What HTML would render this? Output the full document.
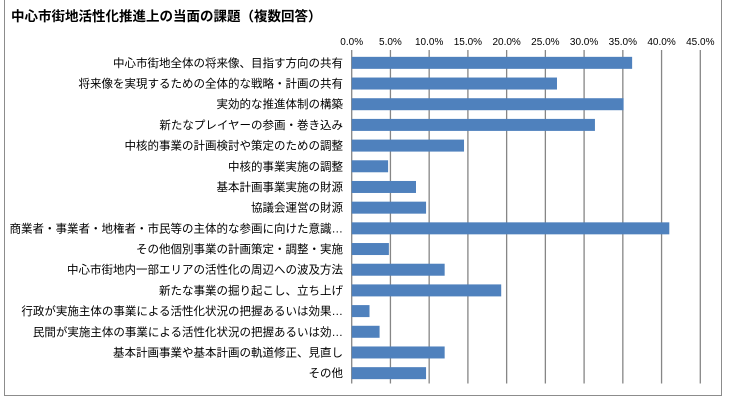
<!DOCTYPE html>
<html><head><meta charset="utf-8"><style>
body{margin:0;background:#fff;}
svg{display:block;font-family:"Liberation Sans","Noto Sans CJK JP",sans-serif;}
</style></head><body>
<svg id="chart" width="730" height="400">
<rect x="4.5" y="-1" width="717" height="396.5" fill="#fff" stroke="#8c8c8c"/>
<text x="11" y="21" font-size="13.5" font-weight="bold" fill="#000" font-family="'Noto Sans CJK JP',sans-serif">中心市街地活性化推進上の当面の課題（複数回答）</text>
<g id="grid"></g><g id="bars"></g><g id="labels"></g><g id="ticks"></g>
</svg>
<script>
const categories=["中心市街地全体の将来像、目指す方向の共有","将来像を実現するための全体的な戦略・計画の共有","実効的な推進体制の構築","新たなプレイヤーの参画・巻き込み","中核的事業の計画検討や策定のための調整","中核的事業実施の調整","基本計画事業実施の財源","協議会運営の財源","商業者・事業者・地権者・市民等の主体的な参画に向けた意識…","その他個別事業の計画策定・調整・実施","中心市街地内一部エリアの活性化の周辺への波及方法","新たな事業の掘り起こし、立ち上げ","行政が実施主体の事業による活性化状況の把握あるいは効果…","民間が実施主体の事業による活性化状況の把握あるいは効…","基本計画事業や基本計画の軌道修正、見直し","その他"];
const values=[36.2,26.5,35.1,31.4,14.5,4.7,8.3,9.6,41.0,4.8,12.0,19.3,2.3,3.6,12.0,9.6];
const tickValues=[0,5,10,15,20,25,30,35,40,45];
const tickLabels=["0.0%","5.0%","10.0%","15.0%","20.0%","25.0%","30.0%","35.0%","40.0%","45.0%"];
const NS="http://www.w3.org/2000/svg";
const x0=351.7,x1=700.3,xMax=45,plotTop=52.5,plotBot=383.5;
const xs=v=>x0+(v/xMax)*(x1-x0);
const band=(plotBot-plotTop)/categories.length;
const yc=i=>plotTop+band*(i+0.5);
function mk(t,a,p){const e=document.createElementNS(NS,t);for(const k in a)e.setAttribute(k,a[k]);document.getElementById(p).appendChild(e);return e;}
tickValues.forEach((v,i)=>{
 const l=mk("line",{x1:xs(v),x2:xs(v),y1:50,y2:plotBot,stroke:"#868686","stroke-width":1.3},"grid");
 
 
 const t=mk("text",{x:xs(v),y:45,"font-size":10,"text-anchor":"middle",fill:"#000"},"ticks");
 t.textContent=tickLabels[i];
 
 
});
categories.forEach((c,i)=>{
 const r=mk("rect",{x:x0,y:yc(i)-6,width:xs(values[i])-x0,height:12,fill:"#4f81bd"},"bars");
 
 
 const t=mk("text",{x:343,y:yc(i)+4,"font-size":11.5,"text-anchor":"end",fill:"#000"},"labels");
 t.textContent=c;
 
 
});
</script>
</body></html>
